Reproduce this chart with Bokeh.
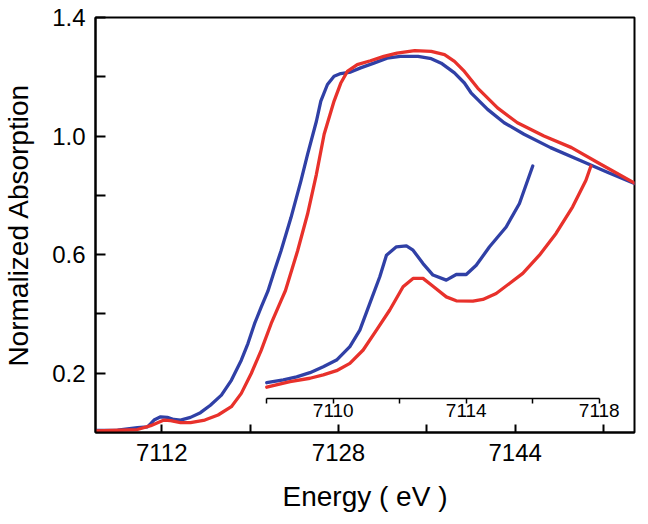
from bokeh.plotting import figure
from bokeh.models import Range1d, LinearAxis, FixedTicker
from bokeh.embed import file_html
from bokeh.resources import INLINE

# ---- data ----
blue_e = [7106.0, 7108.0, 7109.8, 7110.7, 7111.0, 7111.3, 7111.9, 7112.5, 7113.1, 7113.7, 7114.6,
          7115.5, 7116.4, 7117.4, 7118.3, 7119.2, 7119.8, 7120.4, 7121.0, 7121.6, 7122.2, 7122.8,
          7123.7, 7124.6, 7125.2, 7126.0, 7126.4, 7127.0, 7127.6, 7128.2, 7129.1, 7130.0, 7131.2,
          7132.4, 7133.6, 7135.2, 7136.4, 7137.3, 7138.5, 7139.4, 7140.0, 7141.5, 7143.0, 7144.8,
          7147.2, 7150.0, 7152.4, 7155.0]
blue_mu = [0.007, 0.008, 0.016, 0.019, 0.030, 0.042, 0.053, 0.051, 0.044, 0.042, 0.051,
           0.067, 0.092, 0.126, 0.176, 0.244, 0.300, 0.367, 0.423, 0.476, 0.546, 0.613,
           0.725, 0.849, 0.938, 1.050, 1.118, 1.174, 1.202, 1.211, 1.216, 1.230, 1.246,
           1.263, 1.269, 1.269, 1.261, 1.246, 1.213, 1.179, 1.146, 1.090, 1.045, 1.006,
           0.961, 0.916, 0.877, 0.837]

red_e = [7106.0, 7109.8, 7111.0, 7112.2, 7112.8, 7113.7, 7114.6, 7115.9, 7117.1, 7118.3, 7119.2,
         7120.1, 7121.0, 7121.9, 7122.8, 7123.2, 7124.3, 7125.2, 7126.0, 7126.7, 7127.6, 7128.2,
         7128.8, 7129.7, 7130.9, 7132.1, 7133.3, 7134.9, 7136.4, 7137.6, 7138.5, 7139.4, 7140.6,
         7142.4, 7144.2, 7146.6, 7149.1, 7151.5, 7155.0]
red_mu = [0.005, 0.010, 0.023, 0.042, 0.040, 0.033, 0.033, 0.042, 0.059, 0.087, 0.132,
          0.199, 0.277, 0.367, 0.445, 0.479, 0.613, 0.737, 0.871, 1.006, 1.118, 1.178,
          1.218, 1.241, 1.254, 1.269, 1.280, 1.288, 1.286, 1.275, 1.252, 1.218, 1.162,
          1.095, 1.045, 1.000, 0.961, 0.910, 0.837]

inset_blue_e = [7108.0, 7108.5, 7108.9, 7109.3, 7109.7, 7110.1, 7110.5, 7110.8, 7111.1, 7111.4,
                7111.6, 7111.9, 7112.2, 7112.4, 7112.7, 7113.0, 7113.4, 7113.7, 7114.0, 7114.3,
                7114.7, 7115.2, 7115.6, 7116.0]
inset_blue_mu = [0.0050, 0.0060, 0.0071, 0.0086, 0.0107, 0.0131, 0.0179, 0.0238, 0.0334, 0.0429,
                 0.0506, 0.0536, 0.0539, 0.0524, 0.0476, 0.0435, 0.0417, 0.0437, 0.0437, 0.0470,
                 0.0536, 0.0607, 0.0691, 0.0825]

inset_red_e = [7108.0, 7108.7, 7109.3, 7109.7, 7110.1, 7110.5, 7110.9, 7111.3, 7111.7, 7112.1,
               7112.4, 7112.7, 7113.0, 7113.4, 7113.7, 7114.2, 7114.5, 7114.9, 7115.3, 7115.7,
               7116.2, 7116.7, 7117.2, 7117.6, 7117.75]
inset_red_mu = [0.0034, 0.0054, 0.0066, 0.0078, 0.0093, 0.0119, 0.0167, 0.0238, 0.0310, 0.0393,
                0.0423, 0.0423, 0.0395, 0.0357, 0.0343, 0.0342, 0.0348, 0.0369, 0.0405, 0.0441,
                0.0506, 0.0584, 0.0679, 0.0774, 0.0825]

x_ticks = [7112, 7120, 7128, 7136, 7144, 7152]
x_tick_labels = ["7112", "", "7128", "", "7144", ""]
y_ticks = [0.2, 0.4, 0.6, 0.8, 1.0, 1.2, 1.4]
y_tick_labels = ["0.2", "", "0.6", "", "1.0", "", "1.4"]
inset_ticks = [7108, 7110, 7112, 7114, 7116, 7118]
inset_tick_labels = ["", "7110", "", "7114", "", "7118"]

BLUE = "#3040A6"
RED = "#E8312B"
FONT = "Liberation Sans"
LW = 3.3

p = figure(frame_width=539, frame_height=415,
           x_range=Range1d(7106, 7154.8), y_range=Range1d(0, 1.4),
           output_backend="svg", toolbar_location=None,
           min_border_left=90, min_border_right=11, min_border_top=17, min_border_bottom=92,
           x_axis_label="Energy ( eV )", y_axis_label="Normalized Absorption")
p.extra_x_ranges = {"inset_x": Range1d(7102.85, 7119.06)}
p.extra_y_ranges = {"inset_y": Range1d(-0.0128, 0.1356)}
p.grid.visible = False
p.background_fill_color = "white"
p.border_fill_color = "white"
p.outline_line_color = "black"
p.outline_line_width = 2

xa = p.xaxis[0]
ya = p.yaxis[0]
xa.ticker = FixedTicker(ticks=x_ticks)
xa.major_label_overrides = dict(zip(x_ticks, x_tick_labels))
ya.ticker = FixedTicker(ticks=y_ticks)
ya.major_label_overrides = dict(zip(y_ticks, y_tick_labels))
for ax, tin in ((xa, 8), (ya, 10)):
    ax.axis_line_width = 2
    ax.axis_line_color = "black"
    ax.major_tick_in = tin
    ax.major_tick_out = 0
    ax.major_tick_line_width = 2
    ax.major_tick_line_color = "black"
    ax.minor_tick_in = 0
    ax.minor_tick_out = 0
    ax.major_label_text_font = FONT
    ax.major_label_text_font_size = "24px"
    ax.major_label_text_color = "black"
    ax.axis_label_text_font = FONT
    ax.axis_label_text_font_size = "28px"
    ax.axis_label_text_font_style = "normal"
    ax.axis_label_text_color = "black"
xa.major_label_standoff = 11
xa.axis_label_standoff = 17
ya.major_label_standoff = 10
ya.axis_label_standoff = 15

# main spectra
p.line(blue_e, blue_mu, line_color=BLUE, line_width=LW, line_join="round", line_cap="round")
p.line(red_e, red_mu, line_color=RED, line_width=LW, line_join="round", line_cap="round")

# inset spectra (pre-edge region)
p.line(inset_blue_e, inset_blue_mu, line_color=BLUE, line_width=LW, line_join="round", line_cap="round",
       x_range_name="inset_x", y_range_name="inset_y")
p.line(inset_red_e, inset_red_mu, line_color=RED, line_width=LW, line_join="round", line_cap="round",
       x_range_name="inset_x", y_range_name="inset_y")

# inset axis
iax = LinearAxis(x_range_name="inset_x", y_range_name="inset_y", fixed_location=-0.0006,
                 bounds=(7108, 7118), ticker=FixedTicker(ticks=inset_ticks),
                 major_label_overrides=dict(zip(inset_ticks, inset_tick_labels)))
iax.axis_line_width = 1.5
iax.axis_line_color = "black"
iax.major_tick_in = 0
iax.major_tick_out = 5
iax.major_tick_line_width = 1.5
iax.minor_tick_in = 0
iax.minor_tick_out = 0
iax.major_label_standoff = 1
iax.major_label_text_font = FONT
iax.major_label_text_font_size = "19px"
iax.major_label_text_color = "black"
p.add_layout(iax, "below")

open("out.html", "w").write(file_html(p, INLINE))
